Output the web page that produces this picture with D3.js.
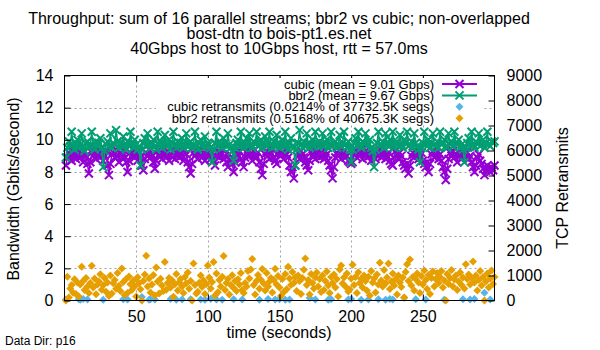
<!DOCTYPE html>
<html>
<head>
<meta charset="utf-8">
<script src="https://cdn.jsdelivr.net/npm/d3@7"></script>
<style>
  body { margin: 0; background: #ffffff; }
  text { font-family: 'Liberation Sans', Arial, sans-serif; fill: #000000; }
</style>
</head>
<body>
<script>
/* DATA */

var titleLines = [
    'Throughput: sum of 16 parallel streams; bbr2 vs cubic; non-overlapped',
    'bost-dtn to bois-pt1.es.net',
    '40Gbps host to 10Gbps host, rtt = 57.0ms'
];
var seriesNames = [
    'cubic (mean = 9.01 Gbps)',
    'bbr2 (mean = 9.67 Gbps)',
    'cubic retransmits (0.0214% of 37732.5K segs)',
    'bbr2 retransmits (0.5168% of 40675.3K segs)'
];
var xTicks = [50, 100, 150, 200, 250];
var yTicks = [0, 2, 4, 6, 8, 10, 12, 14];
var y2Ticks = [0, 1000, 2000, 3000, 4000, 5000, 6000, 7000, 8000, 9000];

// throughput, Gbits/second, one value per second (t = 1..300)
var cubicGbps = [
    8.4, 8.9, 9.2, 9.0, 8.7, 9.3, 9.1, 8.8, 9.4, 9.2, 8.9, 9.1, 8.6, 9.3, 9.0, 8.5, 7.9, 8.6, 9.2, 9.0,
    9.3, 8.8, 9.1, 9.4, 8.9, 9.2, 8.7, 9.0, 9.3, 8.4, 7.8, 8.5, 9.1, 9.2, 8.9, 9.4, 9.0, 8.6, 9.2, 9.1,
    8.8, 9.3, 8.6, 8.0, 8.7, 9.2, 9.0, 9.4, 8.9, 9.1, 8.7, 9.3, 8.9, 8.4, 8.1, 8.8, 9.2, 9.0, 9.4, 8.9,
    9.1, 8.6, 8.2, 8.7, 9.3, 9.0, 9.2, 8.8, 9.4, 9.1, 8.9, 9.3, 8.7, 9.0, 9.5, 9.2, 8.8, 9.1, 9.3, 8.9,
    9.2, 9.0, 8.7, 9.4, 9.1, 8.6, 8.3, 7.9, 8.5, 9.2, 9.0, 9.3, 8.8, 9.1, 9.4, 8.9, 9.2, 8.7, 9.0, 9.3,
    9.1, 8.8, 9.2, 8.7, 8.4, 9.0, 9.3, 8.9, 9.1, 9.4, 8.8, 9.0, 8.6, 8.3, 9.1, 8.7, 8.5, 8.0, 8.6, 9.2,
    9.0, 9.3, 8.8, 8.6, 8.3, 8.9, 9.2, 9.4, 9.0, 9.1, 8.7, 9.3, 9.0, 8.9, 9.2, 8.6, 8.2, 7.8, 8.5, 9.1,
    9.3, 9.0, 8.8, 9.2, 9.4, 8.9, 8.7, 8.5, 9.1, 9.3, 9.0, 9.2, 8.8, 9.4, 9.1, 8.9, 8.4, 8.0, 8.3, 7.6,
    8.4, 9.0, 9.2, 8.8, 9.3, 9.1, 8.9, 8.6, 8.4, 8.1, 8.7, 9.2, 9.0, 9.4, 8.8, 9.1, 9.3, 8.9, 9.2, 9.0,
    8.8, 9.3, 9.1, 8.7, 8.4, 8.1, 7.6, 8.3, 8.9, 9.2, 9.0, 9.4, 8.8, 9.1, 9.3, 8.9, 9.0, 8.7, 8.6, 8.5,
    8.6, 9.1, 9.3, 8.9, 9.2, 9.0, 9.4, 8.8, 9.1, 9.3, 8.9, 9.2, 9.0, 8.7, 9.1, 9.3, 8.8, 9.0, 9.2, 9.4,
    8.9, 9.1, 9.3, 8.8, 9.0, 9.2, 8.7, 8.5, 8.4, 8.9, 9.3, 9.1, 8.8, 9.2, 9.0, 8.6, 8.4, 8.2, 8.5, 7.9,
    8.4, 9.0, 9.2, 8.9, 9.3, 9.1, 8.8, 9.0, 9.2, 8.7, 8.5, 8.3, 8.6, 8.0, 8.5, 9.1, 9.3, 8.9, 9.0, 9.2,
    8.8, 9.1, 8.7, 8.3, 8.0, 7.5, 8.2, 8.8, 9.2, 9.0, 9.3, 8.9, 9.1, 8.6, 9.2, 9.0, 8.8, 9.3, 9.1, 8.9,
    9.2, 8.8, 9.0, 8.6, 8.3, 8.0, 8.4, 8.9, 9.1, 8.7, 8.5, 8.2, 7.8, 8.1, 8.4, 8.2, 8.0, 8.3, 8.1, 8.4
];
var bbr2Gbps = [
    8.9, 9.5, 9.9, 9.6, 10.5, 9.7, 9.4, 9.8, 10.0, 9.5, 9.7, 10.4, 9.6, 9.3, 9.8, 9.9, 9.5, 9.7, 10.5, 9.6,
    9.4, 9.9, 9.6, 9.8, 10.1, 9.5, 8.3, 9.3, 9.7, 9.9, 9.6, 10.4, 9.5, 9.8, 9.7, 10.6, 9.9, 9.5, 9.8, 9.6,
    10.2, 9.7, 9.4, 9.9, 9.6, 10.5, 9.8, 9.5, 10.0, 9.7, 9.4, 9.6, 8.4, 9.4, 9.8, 10.1, 9.6, 10.4, 9.7, 9.5,
    9.8, 10.0, 9.6, 9.4, 10.5, 9.7, 9.9, 9.5, 9.8, 10.3, 9.6, 9.7, 10.0, 9.4, 9.8, 10.5, 9.7, 9.5, 9.9, 9.6,
    9.8, 10.1, 9.5, 9.7, 10.4, 9.6, 9.8, 9.9, 9.5, 9.7, 10.5, 9.6, 9.4, 9.8, 10.0, 9.7, 9.5, 10.2, 9.6, 9.8,
    9.7, 9.5, 8.6, 9.4, 9.8, 10.5, 9.6, 9.9, 9.7, 9.5, 10.1, 9.8, 9.6, 10.4, 9.7, 9.5, 9.3, 8.7, 9.5, 9.8,
    10.0, 9.6, 10.5, 9.7, 9.5, 9.8, 10.1, 9.6, 10.4, 9.7, 9.5, 9.9, 9.8, 10.5, 9.6, 9.7, 10.0, 9.5, 9.8, 10.2,
    9.6, 9.8, 10.5, 9.7, 9.5, 9.9, 9.6, 10.3, 9.8, 9.5, 9.7, 10.0, 9.6, 10.5, 9.7, 9.4, 9.8, 10.1, 9.6, 9.5,
    8.4, 9.4, 9.8, 10.6, 9.7, 9.5, 9.9, 9.6, 10.4, 9.8, 9.5, 9.7, 10.0, 9.6, 10.5, 9.8, 9.6, 9.9, 9.7, 10.4,
    9.6, 9.8, 10.0, 9.5, 9.7, 10.5, 9.6, 9.8, 9.9, 9.5, 9.7, 10.3, 9.6, 9.8, 10.5, 9.7, 9.5, 9.9, 9.4, 8.6,
    9.4, 9.8, 10.1, 9.6, 10.5, 9.7, 9.5, 9.9, 9.8, 10.4, 9.6, 9.7, 10.0, 9.5, 9.3, 8.3, 9.4, 9.8, 10.5, 9.6,
    9.7, 9.9, 9.5, 10.4, 9.8, 9.6, 10.0, 9.7, 10.5, 9.5, 9.8, 9.9, 9.6, 10.3, 9.7, 9.5, 10.0, 9.8, 10.5, 9.6,
    9.7, 9.9, 9.5, 10.4, 9.8, 9.6, 9.4, 8.6, 9.5, 9.8, 10.5, 9.7, 9.6, 10.0, 9.5, 9.8, 10.4, 9.7, 9.6, 9.9,
    9.5, 10.5, 9.7, 9.8, 10.0, 9.6, 9.5, 10.4, 9.7, 9.9, 9.6, 10.5, 9.8, 9.7, 10.0, 9.5, 9.7, 9.4, 8.6, 9.5,
    9.8, 10.1, 9.6, 10.5, 9.7, 9.5, 9.9, 9.8, 10.4, 9.6, 9.7, 10.0, 9.5, 9.8, 10.5, 9.7, 9.6, 9.9, 9.8, 9.9
];

// retransmits per second (right axis)
var bbr2Retrans = [
    0, 950, 120, 480, 620, 310, 850, 260, 720, 160, 640, 1350, 780, 420, 900, 560, 300, 700, 1390, 520,
    880, 250, 640, 760, 1050, 430, 610, 900, 350, 720, 180, 1000, 280, 690, 820, 470, 1100, 590, 380, 1280,
    740, 220, 860, 300, 960, 650, 420, 800, 570, 160, 930, 690, 450, 0, 780, 1040, 1790, 560, 880, 320,
    640, 1020, 200, 1320, 760, 280, 870, 600, 380, 1540, 430, 700, 900, 520, 810, 150, 650, 1060, 400, 730,
    860, 560, 300, 940, 690, 1120, 470, 780, 0, 1480, 620, 280, 350, 710, 1000, 540, 800, 260, 660, 1400,
    920, 480, 740, 1540, 200, 1080, 330, 820, 560, 950, 1780, 420, 700, 860, 240, 620, 1010, 500, 780, 380,
    850, 640, 1100, 420, 300, 700, 560, 1180, 880, 1240, 1660, 620, 240, 780, 1020, 470, 830, 1260, 680, 400,
    1100, 560, 760, 900, 320, 820, 1270, 640, 980, 520, 180, 860, 340, 1060, 450, 1350, 880, 620, 1140, 700,
    930, 380, 1000, 780, 260, 900, 1230, 1680, 620, 820, 240, 1060, 700, 480, 920, 1120, 560, 860, 340, 1000,
    420, 780, 1160, 600, 300, 940, 700, 1040, 520, 860, 160, 1240, 1400, 680, 920, 560, 1080, 360, 440, 880,
    1430, 620, 940, 300, 1130, 700, 860, 520, 1000, 780, 400, 950, 200, 1180, 720, 880, 320, 1040, 640, 1510,
    800, 560, 1220, 680, 920, 1480, 460, 760, 1080, 600, 860, 240, 1000, 720, 540, 920, 120, 1140, 1450, 780,
    1640, 600, 940, 400, 860, 1080, 720, 300, 980, 640, 1200, 820, 460, 1020, 260, 900, 1160, 560, 860, 1100,
    700, 940, 1180, 520, 800, 0, 1060, 660, 900, 1220, 560, 840, 1000, 420, 760, 1120, 620, 920, 480, 1450,
    860, 1040, 640, 900, 1560, 720, 1000, 400, 820, 1180, 600, 940, 0, 760, 1080, 520, 880, 1200, 660, 940
];
// cubic retransmits only show up at some seconds
var cubicRetransTime = [1, 10, 11, 13, 16, 27, 41, 44, 54, 59, 60, 63, 74, 78, 82, 88, 95, 98, 102, 106,
    110, 118, 124, 136, 142, 147, 150, 154, 157, 171, 175, 184, 186, 198, 200, 207, 212, 219, 224, 227,
    229, 237, 245, 252, 265, 278, 283, 286, 293, 297];
var cubicRetrans = [40, 50, 30, 60, 40, 30, 50, 40, 140, 30, 50, 40, 60, 30, 40, 50, 40, 30, 60, 40,
    30, 50, 40, 30, 60, 40, 50, 30, 40, 100, 40, 30, 50, 40, 60, 30, 40, 50, 30, 60,
    40, 110, 50, 40, 30, 50, 40, 60, 310, 40];


/* STYLE */
var width = 600;
var height = 350;
var font = "'Liberation Sans', Arial, sans-serif";
var colors = ['#9400d3', '#009e73', '#56b4e9', '#e69f00'];
var gridColor = '#a0a0a0';

var plotLeft = 64.5, plotRight = 494.5, plotTop = 75.5, plotBottom = 300.5;

/* SCALES */
const x = d3.scaleLinear().domain([0, 300]).range([plotLeft, plotRight]);
const y = d3.scaleLinear().domain([0, 14]).range([plotBottom, plotTop]);
const y2 = d3.scaleLinear().domain([0, 9000]).range([plotBottom, plotTop]);

const svg = d3.select('body').append('svg')
    .attr('width', width)
    .attr('height', height);

svg.append('rect').attr('width', width).attr('height', height).attr('fill', '#ffffff');

// title, 3 lines
svg.append('g').selectAll('text')
    .data(titleLines)
    .join('text')
    .attr('x', 279)
    .attr('y', (d, i) => 24 + i * 15)
    .attr('text-anchor', 'middle')
    .style('font-size', '16px')
    .text(d => d);

/* GRID */
const grid = svg.append('g')
    .attr('stroke', gridColor)
    .attr('stroke-width', 1)
    .attr('stroke-dasharray', '2,3');
grid.selectAll('.gx')
    .data(xTicks)
    .join('line')
    .attr('x1', d => Math.round(x(d)) + 0.5).attr('x2', d => Math.round(x(d)) + 0.5)
    .attr('y1', plotTop).attr('y2', plotBottom);
grid.selectAll('.gy')
    .data(yTicks.slice(1, -1))
    .join('line')
    .attr('x1', plotLeft).attr('x2', plotRight)
    .attr('y1', d => Math.round(y(d)) + 0.5).attr('y2', d => Math.round(y(d)) + 0.5);

/* MARKERS */
const crossPath = 'M-4,-4L4,4M-4,4L4,-4';
const diamondPath = 'M0,-4L4,0L0,4L-4,0Z';

const lineGen = (vals) => d3.line()
    .x((d, i) => x(i + 1))
    .y(d => y(d))(vals);

const drawThroughput = (vals, color) => {
    const g = svg.append('g');
    g.append('path')
        .attr('d', lineGen(vals))
        .attr('fill', 'none')
        .attr('stroke', color)
        .attr('stroke-width', 1.5);
    g.selectAll('path.pt')
        .data(vals)
        .join('path')
        .attr('class', 'pt')
        .attr('transform', (d, i) => `translate(${x(i + 1)},${y(d)})`)
        .attr('d', crossPath)
        .attr('fill', 'none')
        .attr('stroke', color)
        .attr('stroke-width', 2);
};

drawThroughput(cubicGbps, colors[0]);
drawThroughput(bbr2Gbps, colors[1]);

// cubic retransmits, right axis
svg.append('g').selectAll('path')
    .data(cubicRetrans)
    .join('path')
    .attr('transform', (d, i) => `translate(${x(cubicRetransTime[i])},${y2(d)})`)
    .attr('d', diamondPath)
    .attr('fill', colors[2]);

// bbr2 retransmits, right axis
svg.append('g').selectAll('path')
    .data(bbr2Retrans)
    .join('path')
    .attr('transform', (d, i) => `translate(${x(i + 1)},${y2(d)})`)
    .attr('d', diamondPath)
    .attr('fill', colors[3]);

/* AXES */
const styleAxis = g => {
    g.select('.domain').remove();
    g.selectAll('line').attr('stroke', '#000000');
    g.selectAll('text').style('font-size', '16px').style('font-family', font).attr('fill', '#000000');
};

svg.append('g')
    .attr('transform', `translate(${plotLeft},0)`)
    .call(d3.axisLeft(y).tickValues(yTicks).tickSize(-6).tickPadding(11).tickFormat(d3.format('d')))
    .call(styleAxis);

svg.append('g')
    .attr('transform', `translate(${plotRight},0)`)
    .call(d3.axisRight(y2).tickValues(y2Ticks).tickSize(-6).tickPadding(12).tickFormat(d3.format('d')))
    .call(styleAxis);

svg.append('g')
    .attr('transform', `translate(0,${plotBottom})`)
    .call(d3.axisBottom(x).tickValues(xTicks).tickSize(-6).tickPadding(10).tickFormat(d3.format('d')))
    .call(styleAxis);

// mirrored x ticks along the top border
svg.append('g')
    .attr('transform', `translate(0,${plotTop})`)
    .call(d3.axisTop(x).tickValues(xTicks).tickSize(-6).tickFormat(''))
    .call(styleAxis);

// border
svg.append('rect')
    .attr('x', plotLeft).attr('y', plotTop)
    .attr('width', plotRight - plotLeft).attr('height', plotBottom - plotTop)
    .attr('fill', 'none')
    .attr('stroke', '#000000')
    .attr('stroke-width', 1);

/* AXIS LABELS */
svg.append('text')
    .attr('transform', 'translate(19,189) rotate(-90)')
    .attr('text-anchor', 'middle')
    .style('font-size', '16px')
    .text('Bandwidth (Gbits/second)');

svg.append('text')
    .attr('transform', 'translate(568,188) rotate(-90)')
    .attr('text-anchor', 'middle')
    .style('font-size', '16px')
    .text('TCP Retransmits');

svg.append('text')
    .attr('x', 279).attr('y', 338)
    .attr('text-anchor', 'middle')
    .style('font-size', '16px')
    .text('time (seconds)');

svg.append('text')
    .attr('x', 5).attr('y', 345)
    .style('font-size', '12px')
    .text('Data Dir: p16');

/* LEGEND (opaque key) */
var keyTextRight = 434;
var keySampleLeft = 442, keySampleRight = 477;
var keyRowY = 84, keyRowStep = 11.4;

const key = svg.append('g');
key.append('rect')
    .attr('x', 156).attr('y', 78)
    .attr('width', 482 - 156).attr('height', 45)
    .attr('fill', '#ffffff');

const rows = key.selectAll('g.row')
    .data(seriesNames)
    .join('g')
    .attr('class', 'row')
    .attr('transform', (d, i) => `translate(0,${keyRowY + i * keyRowStep})`);

rows.append('text')
    .attr('x', keyTextRight)
    .attr('y', 4.6)
    .attr('text-anchor', 'end')
    .style('font-size', '13px')
    .text(d => d);

rows.filter((d, i) => i < 2).append('line')
    .attr('x1', keySampleLeft).attr('x2', keySampleRight)
    .attr('stroke', (d, i) => colors[i])
    .attr('stroke-width', 2);

rows.append('path')
    .attr('transform', `translate(${(keySampleLeft + keySampleRight) / 2},0)`)
    .attr('d', (d, i) => i < 2 ? crossPath : diamondPath)
    .attr('fill', (d, i) => i < 2 ? 'none' : colors[i])
    .attr('stroke', (d, i) => i < 2 ? colors[i] : 'none')
    .attr('stroke-width', 2);
</script>
</body>
</html>
